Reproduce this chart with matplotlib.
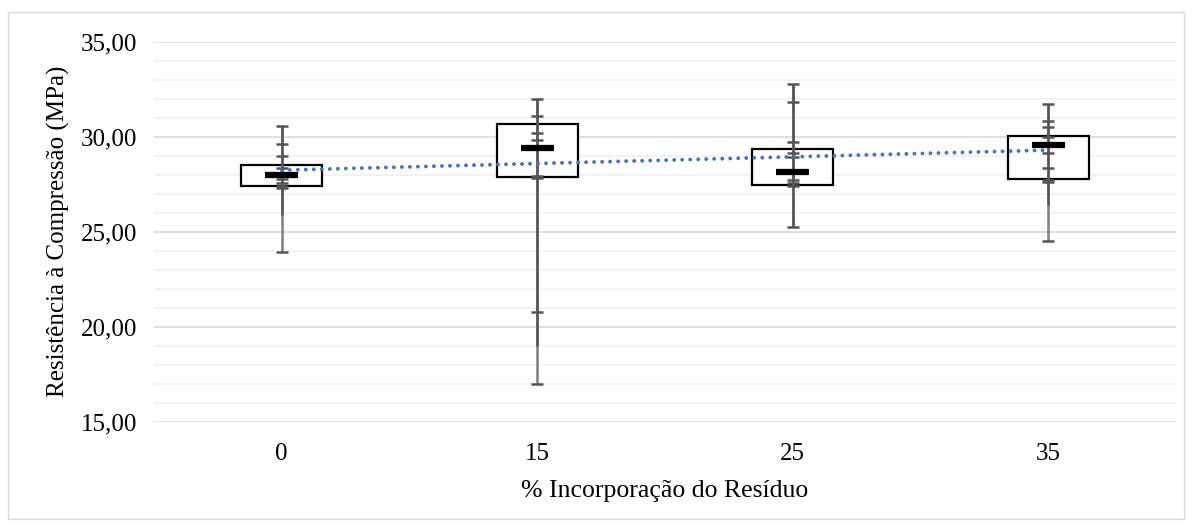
import matplotlib
matplotlib.use("Agg")
import matplotlib.pyplot as plt
import numpy as np
from matplotlib.patches import Rectangle

plt.rcParams['font.family'] = ['Liberation Serif', 'DejaVu Serif']

## Dados

categorias = ['0', '15', '25', '35']
caixa_inf = [27.41, 27.90, 27.47, 27.76]
caixa_sup = [28.51, 30.67, 29.34, 30.05]
media = [27.97, 29.39, 28.14, 29.56]
minimo = [23.93, 16.98, 25.26, 24.53]
maximo = [30.56, 32.00, 32.80, 31.70]
limite_escuro = [25.88, 19.00, 25.26, 26.40]
pontos = [
    [30.56, 29.60, 29.00, 28.34, 27.76, 27.55, 27.42, 27.32, 23.93],
    [32.00, 31.10, 30.21, 29.83, 27.95, 27.85, 20.79, 16.98],
    [32.80, 31.84, 29.74, 29.13, 28.95, 27.70, 27.55, 27.40, 25.26],
    [31.70, 30.83, 30.53, 30.00, 29.60, 29.16, 28.34, 27.70, 27.60, 24.53],
]

## Figura

fig = plt.figure(figsize=(11.92, 5.27), dpi=100)
ax = fig.add_axes([154/1192, 1 - 421.7/527, (1176 - 154)/1192, 380/527])

x = np.arange(1, len(categorias) + 1)

## Grade

ax.set_ylim(15, 35)
ax.set_xlim(0.5, len(categorias) + 0.5)
ax.set_yticks(np.arange(15, 35.1, 5))
ax.set_yticks(np.arange(15, 35.1, 1), minor=True)
ax.grid(axis='y', which='major', color='#D9D9D9', linewidth=1.2, zorder=0)
ax.grid(axis='y', which='minor', color='#F0F0F0', linewidth=1.2, zorder=0)
ax.set_axisbelow(True)
for s in ax.spines.values():
    s.set_visible(False)
ax.tick_params(axis='both', which='both', length=0, labelsize=18, colors='#000000')
ax.tick_params(axis='y', pad=12)
ax.tick_params(axis='x', pad=15)
ax.set_xticks(x)
ax.set_xticklabels(categorias)
ax.yaxis.set_major_formatter(matplotlib.ticker.FuncFormatter(lambda v, p: ('%.2f' % v).replace('.', ',')))

## Caixas

larg_caixa = 0.317
larg_media = 0.13
larg_cap = 0.047
for i in range(len(categorias)):
    ax.add_patch(Rectangle((x[i] - larg_caixa/2, caixa_inf[i]), larg_caixa,
                           caixa_sup[i] - caixa_inf[i], facecolor='white',
                           edgecolor='black', linewidth=1.6, zorder=2))
    ax.vlines(x[i], minimo[i], maximo[i], color='#7f7f7f', linewidth=1.8, zorder=3)
    ax.vlines(x[i], limite_escuro[i], maximo[i], color='#555555', linewidth=1.8, zorder=3)
    ax.hlines(pontos[i], x[i] - larg_cap/2, x[i] + larg_cap/2, color='#555555',
              linewidth=1.8, zorder=4)
    ax.hlines(media[i], x[i] - larg_media/2, x[i] + larg_media/2, color='black',
              linewidth=4.5, zorder=5)

## Linha de tendência

coef = np.polyfit(x, media, 1)
ax.plot(x, np.polyval(coef, x), linestyle=(0, (0.01, 2.05)), color='#4472C4',
        linewidth=2.8, dash_capstyle='round', zorder=6)

## Títulos

ax.set_xlabel('% Incorporação do Resíduo', fontsize=18.5, labelpad=11)
ax.set_ylabel('Resistência à Compressão (MPa)', fontsize=18, labelpad=8)

## Borda

fig.patches.append(Rectangle((8/1192, 1 - 519/527), 1176/1192, 507/527,
                             transform=fig.transFigure, fill=False,
                             edgecolor='#D9D9D9', linewidth=1.0))

fig.savefig('out.png', dpi=100)
